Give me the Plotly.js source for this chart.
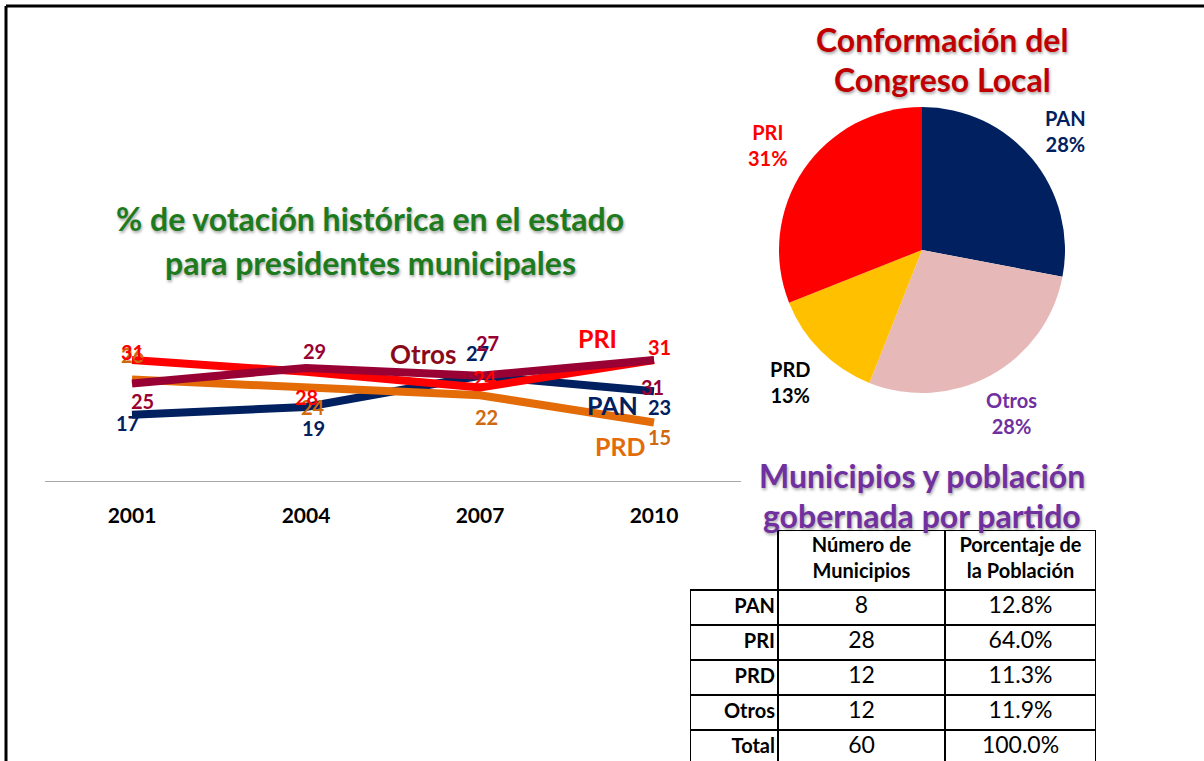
<!DOCTYPE html>
<html>
<head>
<meta charset="utf-8">
<script src="https://cdn.plot.ly/plotly-3.0.1.min.js"></script>
<style>
  html,body{margin:0;padding:0;background:#fff;}
  #chart{width:1204px;height:761px;}
</style>
</head>
<body>
<div id="chart"></div>
<script>
// line chart data (% de votación)
const years = ['2001','2004','2007','2010'];
const pan   = [17,19,27,23];
const pri   = [31,28,24,31];
const prd   = [26,24,22,15];
const otros = [25,29,27,31];

// pie data (Congreso Local)
const pieLabels = ['PAN','Otros','PRD','PRI'];
const pieValues = [28,28,13,31];

// table data
const tableHead    = ['', 'Número de<br>Municipios', 'Porcentaje de<br>la Población'];
const tableParties = ['PAN','PRI','PRD','Otros','Total'];
const municipios   = [8,28,12,12,60];
const poblacion    = ['12.8%','64.0%','11.3%','11.9%','100.0%'];

const FONT = 'Lato, "Open Sans", sans-serif';
const W = 1204, H = 761;
const px = v => v/W, py = v => 1 - v/H;

// style per series: line colour, label colour, label shifts [dx,dy] in px (dy down)
const series = [
  {name:'PAN',  y:pan,   line:'#002060', lab:'#002060',
   shift:[[-5,8],[7,21],[-3,-23],[5,16]]},
  {name:'PRD',  y:prd,   line:'#E36C09', lab:'#D0680F',
   shift:[[0,-25],[7,20],[6,22],[5,15]]},
  {name:'PRI',  y:pri,   line:'#FF0000', lab:'#FF0000',
   shift:[[0,-8],[0,25],[5,-9],[5,-13]]},
  {name:'Otros',y:otros, line:'#990033', lab:'#990033',
   shift:[[10,18],[8,-17],[7,-33],[-2,27]]}
];

const traces = series.map(s=>({
  type:'scatter', mode:'lines', x:years, y:s.y, name:s.name,
  line:{color:s.line,width:8}, xaxis:'x', yaxis:'y', hoverinfo:'skip'
}));

// pie: centre (922,250) px, radius 143 px
const pieColors = ['#002060','#E6B9B8','#FFC000','#FF0000'];
const pieText   = ['#002060','#7030A0','#000000','#FF0000'];
traces.push({
  type:'pie', labels:pieLabels, values:pieValues, sort:false,
  direction:'clockwise', rotation:0, textinfo:'none',
  marker:{colors:pieColors,line:{width:0}},
  domain:{x:[px(779),px(1065)],y:[py(393),py(107)]}, showlegend:false, hoverinfo:'skip'
});

// table drawn on its own axes (x: px across, y: px down from header top)
const colEdges = [0,88,255,406];
const rowEdges = [0,60,95,130,165,200,235];
const colMid = i => (colEdges[i]+colEdges[i+1])/2;
const rowMid = i => (rowEdges[i]+rowEdges[i+1])/2;

traces.push({
  type:'scatter', mode:'text', xaxis:'x2', yaxis:'y2', hoverinfo:'skip', cliponaxis:false,
  x:[colMid(1),colMid(2)], y:[rowMid(0),rowMid(0)],
  text:tableHead.slice(1).map(t=>'<b>'+t.replace('<br>','</b><br><b>')+'</b>'),
  textposition:'middle center', textfont:{family:FONT,size:20,color:'#000'}
});
traces.push({
  type:'scatter', mode:'text', xaxis:'x2', yaxis:'y2', hoverinfo:'skip', cliponaxis:false,
  x:tableParties.map(()=>colEdges[1]-3), y:tableParties.map((t,i)=>rowMid(i+1)),
  text:tableParties.map(t=>'<b>'+t+'</b>'),
  textposition:'middle left', textfont:{family:FONT,size:20,color:'#000'}
});
traces.push({
  type:'scatter', mode:'text', xaxis:'x2', yaxis:'y2', hoverinfo:'skip', cliponaxis:false,
  x:municipios.map(()=>colMid(1)).concat(poblacion.map(()=>colMid(2))),
  y:municipios.map((v,i)=>rowMid(i+1)).concat(poblacion.map((v,i)=>rowMid(i+1))),
  text:municipios.map(String).concat(poblacion),
  textposition:'middle center', textfont:{family:FONT,size:23,color:'#000'}
});

const shapes = [
  {type:'line',xref:'paper',yref:'paper',x0:px(6),x1:1,y0:py(6),y1:py(6),line:{color:'#000',width:3}},
  {type:'line',xref:'paper',yref:'paper',x0:px(6),x1:px(6),y0:py(6),y1:0,line:{color:'#000',width:3}}
];
const tl = (x0,y0,x1,y1)=>shapes.push({type:'line',xref:'x2',yref:'y2',x0,y0,x1,y1,line:{color:'#000',width:2}});
tl(colEdges[1],rowEdges[0],colEdges[3],rowEdges[0]);
for(let r=1;r<rowEdges.length;r++) tl(colEdges[0],rowEdges[r],colEdges[3],rowEdges[r]);
tl(colEdges[0],rowEdges[1],colEdges[0],rowEdges[rowEdges.length-1]);
for(let c=1;c<colEdges.length;c++) tl(colEdges[c],rowEdges[0],colEdges[c],rowEdges[rowEdges.length-1]);

const annotations = [];
series.forEach(s=>{
  s.y.forEach((v,i)=>{
    annotations.push({x:i,y:v,xref:'x',yref:'y',text:String(v),showarrow:false,
      xshift:s.shift[i][0],yshift:-s.shift[i][1],
      font:{family:FONT,size:20,weight:'bold',color:s.lab}});
  });
});
// series names
[['Otros',1.672,32.6,'#8B0A1A',26],['PRI',2.678,36.7,'#FF0000',25],
 ['PAN',2.759,19.5,'#002060',25],['PRD',2.805,9.0,'#E36C09',25]].forEach(n=>{
  annotations.push({x:n[1],y:n[2],xref:'x',yref:'y',text:'<b>'+n[0]+'</b>',showarrow:false,
    font:{family:FONT,size:n[4],color:n[3]}});
});

// pie labels outside each slice, along the slice mid-angle
const pieTotal = pieValues.reduce((a,b)=>a+b,0);
let cum = 0;
pieValues.forEach((v,i)=>{
  const mid = (cum + v/2)/pieTotal*2*Math.PI; cum += v;
  const r = 186;
  annotations.push({xref:'paper',yref:'paper',
    x:px(922 + r*Math.sin(mid)), y:py(250 - r*Math.cos(mid)),
    text:'<b>'+pieLabels[i]+'<br>'+Math.round(v/pieTotal*100)+'%</b>',
    showarrow:false,xanchor:'center',yanchor:'middle',
    font:{family:FONT,size:20,color:pieText[i]}});
});

const shadow = '1px 2px 3px rgba(0,0,0,0.35)';
const title = (t,x,y,c)=>({x:px(x),y:py(y),xref:'paper',yref:'paper',text:'<b>'+t+'</b>',
  showarrow:false,xanchor:'center',yanchor:'middle',
  font:{family:FONT,size:32,color:c,shadow:shadow}});
annotations.push(
  title('% de votación histórica en el estado',370,218,'#1D7B1D'),
  title('para presidentes municipales',370,262,'#1D7B1D'),
  title('Conformación del',942,40,'#C00000'),
  title('Congreso Local',942,80,'#C00000'),
  title('Municipios y población',922,475,'#7030A0'),
  title('gobernada por partido',922,515,'#7030A0')
);

const layout = {
  width:W, height:H, margin:{l:0,r:0,t:0,b:0},
  paper_bgcolor:'#fff', plot_bgcolor:'rgba(0,0,0,0)', showlegend:false,
  xaxis:{domain:[px(45),px(741)],type:'category',range:[-0.5,3.5],
    showline:true,linecolor:'#A6A6A6',linewidth:1,showgrid:false,zeroline:false,
    ticks:'',ticklabelstandoff:16,
    tickfont:{family:FONT,size:21,weight:'bold',color:'#000'},fixedrange:true},
  yaxis:{domain:[py(481),py(325)],range:[0,40],visible:false,fixedrange:true},
  xaxis2:{domain:[px(690),px(1096)],range:[0,406],visible:false,anchor:'y2'},
  yaxis2:{domain:[0,py(530)],range:[231,0],visible:false,anchor:'x2'},
  annotations:annotations,
  shapes:shapes
};

Plotly.newPlot('chart',traces,layout,{staticPlot:true,displayModeBar:false});
</script>
</body>
</html>
